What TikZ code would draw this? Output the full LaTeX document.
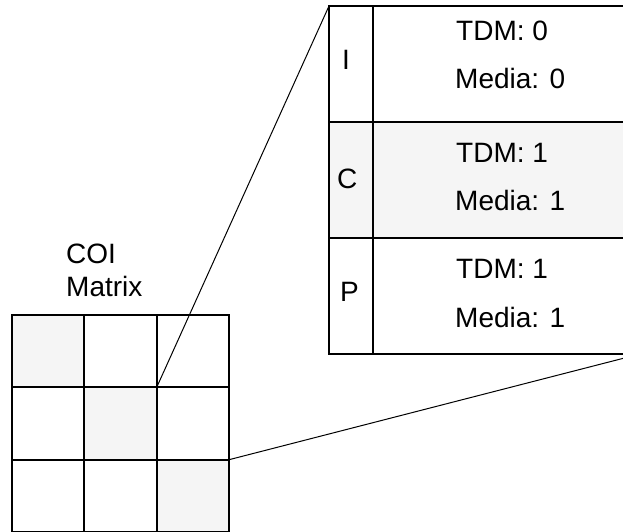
\documentclass[tikz,border=0pt]{standalone}
\usepackage{fontspec}
\setmainfont{Liberation Sans}
\definecolor{cellgray}{HTML}{F5F5F5}
\begin{document}
\begin{tikzpicture}[x=1pt,y=-1pt,
  thick line/.style={line width=2pt, line cap=rect},
  link/.style={line width=1pt},
  lbl/.style={anchor=base west, inner sep=0pt, font=\fontsize{28}{33}\selectfont},
  grayfill/.style={fill=cellgray, draw=none}]
\useasboundingbox (0,0) rectangle (623,531);
\clip (0,0) rectangle (623,531);
% matrix cells
\fill[cellgray] (12,315) rectangle (84.3,387.3);
\fill[cellgray] (84.3,387.3) rectangle (156.7,459.7);
\fill[cellgray] (156.7,459.7) rectangle (229,532);
\draw[thick line] (12,315) rectangle (229,532);
\draw[thick line] (84.3,315) -- (84.3,532) (156.7,315) -- (156.7,532);
\draw[thick line] (12,387.3) -- (229,387.3) (12,459.7) -- (229,459.7);
\coordinate (g1) at (156.7,387.3);
\coordinate (g2) at (229,459.7);
% table
\fill[cellgray] (329,122) rectangle (640,238);
\draw[thick line] (329,6) rectangle (640,354);
\draw[thick line] (373,6) -- (373,354);
\draw[thick line] (329,122) -- (640,122) (329,238) -- (640,238);
\coordinate (t1) at (329,6);
\coordinate (t2) at (640,354);
% connectors
\draw[link] (g1) -- (t1);
\draw[link] (g2) -- (t2);
% texts
\node[lbl] (coi) at (66,263) {COI};
\node[lbl] (mat) at (66,296) {Matrix};
\node[lbl] (li) at (342,69) {I};
\node[lbl] (lc) at (337,188) {C};
\node[lbl] (lp) at (340,301) {P};
\node[lbl] (a1) at (456,40) {TDM: 0};
\node[lbl] (b1) at (455,88) {Media: 0};
\node[lbl] (a2) at (456,162) {TDM: 1};
\node[lbl] (b2) at (455,210) {Media: 1};
\node[lbl] (a3) at (456,278) {TDM: 1};
\node[lbl] (b3) at (455,327) {Media: 1};
\end{tikzpicture}
\end{document}
